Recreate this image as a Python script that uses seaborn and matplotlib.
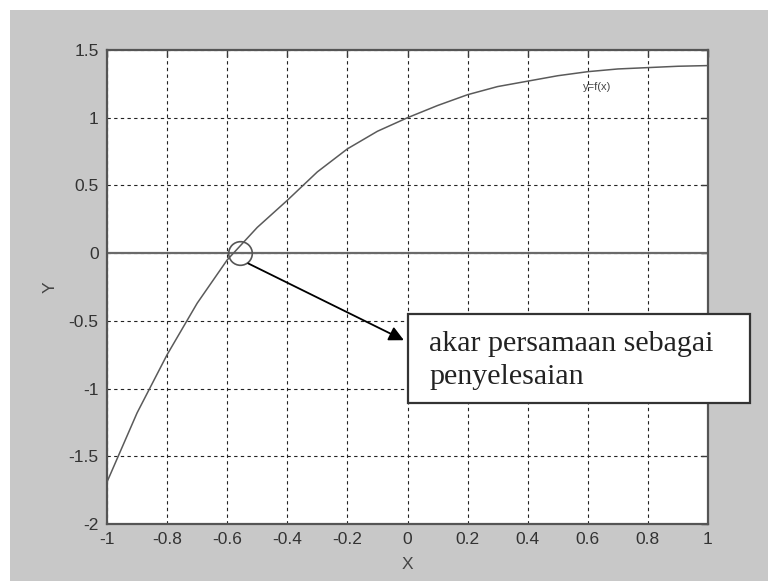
import matplotlib
matplotlib.use("Agg")
import matplotlib.pyplot as plt
import matplotlib.patches as mpatches
import numpy as np
import pandas as pd
import seaborn as sns

# Sampled curve y = f(x)
x_vals = [-1.0, -0.9, -0.8, -0.7, -0.6, -0.5, -0.4, -0.3, -0.2, -0.1, 0.0,
          0.1, 0.2, 0.3, 0.4, 0.5, 0.6, 0.7, 0.8, 0.9, 1.0]
y_vals = [-1.69, -1.18, -0.75, -0.37, -0.05, 0.19, 0.39, 0.60, 0.77, 0.90, 1.00,
          1.09, 1.17, 1.23, 1.27, 1.31, 1.34, 1.36, 1.37, 1.38, 1.385]

x_ticks = [-1, -0.8, -0.6, -0.4, -0.2, 0, 0.2, 0.4, 0.6, 0.8, 1]
x_ticklabels = ["-1", "-0.8", "-0.6", "-0.4", "-0.2", "0", "0.2", "0.4", "0.6", "0.8", "1"]
y_ticks = [-2, -1.5, -1, -0.5, 0, 0.5, 1, 1.5]
y_ticklabels = ["-2", "-1.5", "-1", "-0.5", "0", "0.5", "1", "1.5"]

root_x = -0.557
root_y = 0.0
curve_label = "y=f(x)"
note_lines = ["akar persamaan sebagai", "penyelesaian"]

df = pd.DataFrame({"x": x_vals, "y": y_vals})

sns.set_theme(style="white")
plt.rcParams["font.family"] = ["Liberation Sans", "DejaVu Sans"]

W, H = 768, 581
fig = plt.figure(figsize=(W / 100, H / 100), dpi=100)
fig.patch.set_facecolor("white")

# gray figure panel
panel = mpatches.Rectangle((10 / W, 0), 1 - 10 / W, (H - 10) / H,
                           transform=fig.transFigure, facecolor="#c8c8c8",
                           edgecolor="none", zorder=-10)
fig.patches.append(panel)

ax = fig.add_axes([107 / W, 1 - 524 / H, (708 - 107) / W, (524 - 50) / H])
ax.set_facecolor("white")

sns.lineplot(data=df, x="x", y="y", ax=ax, color="#5a5a5a", linewidth=1.1,
             zorder=3)
ax.axhline(0, color="#6a6a6a", linewidth=1.6, zorder=2)

ax.set_xlim(-1, 1)
ax.set_ylim(-2, 1.5)
ax.set_xticks(x_ticks)
ax.set_xticklabels(x_ticklabels)
ax.set_yticks(y_ticks)
ax.set_yticklabels(y_ticklabels)
ax.tick_params(direction="in", length=5, width=1, colors="#3a3a3a",
               labelsize=12.5, top=True, right=True, labelcolor="#333333")
ax.tick_params(axis="x", pad=6)
ax.tick_params(axis="y", pad=6)
ax.grid(True, color="#222222", linestyle=(0, (3, 3)), linewidth=0.8)
for s in ax.spines.values():
    s.set_color("#555555")
    s.set_linewidth(1.6)

ax.set_xlabel("X", fontsize=12.5, color="#444444", labelpad=7)
ax.set_ylabel("Y", fontsize=12.5, color="#444444", labelpad=8)

# marker around the root
ax.plot([root_x], [root_y], marker="o", markersize=17, markerfacecolor="none",
        markeredgecolor="#555555", markeredgewidth=1.2, zorder=4)

ax.text(0.585, 1.23, curve_label, fontsize=8, color="#444444", va="center",
        ha="left", zorder=4)

# arrow from the root to the note
ax.annotate("", xy=(-0.012, -0.643), xytext=(-0.530, -0.076),
            arrowprops=dict(arrowstyle="-|>", color="black", lw=1.3,
                            mutation_scale=22, shrinkA=0, shrinkB=0),
            zorder=5, annotation_clip=False)

# note box
box = mpatches.Rectangle((408 / W, 1 - 403 / H), (750 - 408) / W, (403 - 314) / H,
                         transform=fig.transFigure, facecolor="white",
                         edgecolor="#333333", linewidth=1.6, zorder=6)
fig.patches.append(box)
for i, line in enumerate(note_lines):
    fig.text(429 / W, 1 - (351 + 33 * i) / H, line, fontsize=21.6,
             family=["Liberation Serif", "DejaVu Serif"], color="#222222",
             va="baseline", zorder=7)

fig.savefig("out.png", dpi=100)
